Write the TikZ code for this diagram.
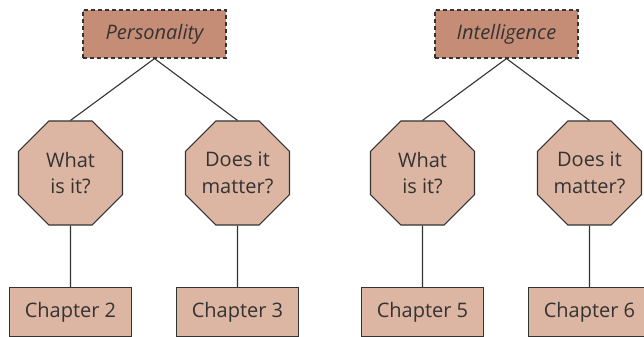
\documentclass[tikz,border=0pt]{standalone}
\usepackage{fontspec}
\setmainfont{Open Sans}
\usepackage{tikz}
\usetikzlibrary{shapes.geometric}

\definecolor{topfill}{HTML}{C68D76}
\definecolor{subfill}{HTML}{DDB5A3}
\definecolor{inkgray}{HTML}{333333}

\begin{document}
\begin{tikzpicture}[x=0.5pt,y=-0.5pt,node distance=69.5pt,
  line width=0.55pt,draw=inkgray,text=inkgray,
  topic/.style={rectangle,draw=inkgray,dash pattern=on 2pt off 1.5pt,fill=topfill,
    minimum width=71.5pt,minimum height=24pt,inner sep=0pt,font=\itshape},
  question/.style={regular polygon,regular polygon sides=8,draw=inkgray,fill=subfill,
    minimum size=56.3pt,inner sep=0pt,align=center,font=\linespread{1.12}\selectfont},
  chapter/.style={rectangle,draw=inkgray,fill=subfill,
    minimum width=61pt,minimum height=24.5pt,inner sep=0pt}]

\useasboundingbox (0,0) rectangle (644,337);

\node[topic] (pers) at (154.5,34) {Personality};
\node[question] (pers_what) [below of=pers,xshift=-42pt] {What\\is it?};
\node[question] (pers_matter) [below of=pers,xshift=41.5pt] {Does it\\matter?};
\node[chapter] (ch_2) [below of=pers_what] {Chapter 2};
\node[chapter] (ch_3) [below of=pers_matter] {Chapter 3};

\node[topic] (intel) at (506.5,34) {Intelligence};
\node[question] (intel_what) [below of=intel,xshift=-42pt] {What\\is it?};
\node[question] (intel_matter) [below of=intel,xshift=41.5pt] {Does it\\matter?};
\node[chapter] (ch_5) [below of=intel_what] {Chapter 5};
\node[chapter] (ch_6) [below of=intel_matter] {Chapter 6};

\path[draw=inkgray] (pers.south) edge (pers_what.north)
  (pers.south) edge (pers_matter.north)
  (pers_what.south) edge (ch_2.north)
  (pers_matter.south) edge (ch_3.north)
  (intel.south) edge (intel_what.north)
  (intel.south) edge (intel_matter.north)
  (intel_what.south) edge (ch_5.north)
  (intel_matter.south) edge (ch_6.north);

\end{tikzpicture}
\end{document}
